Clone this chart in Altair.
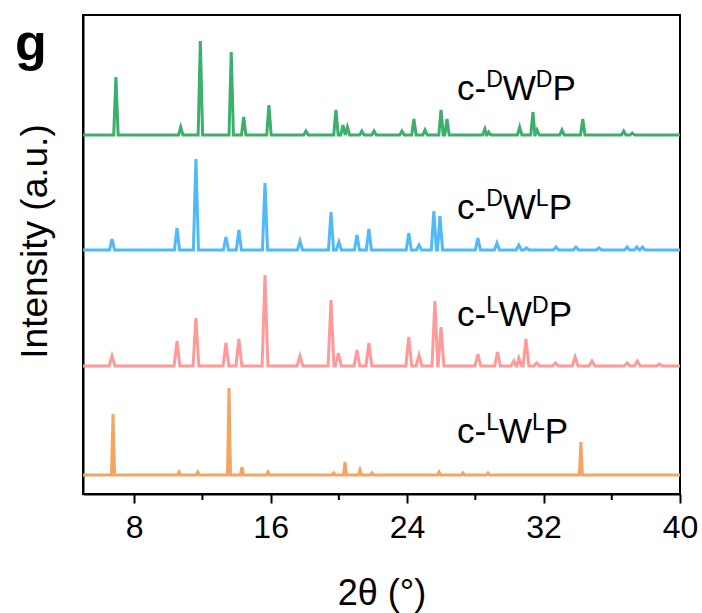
import altair as alt
import pandas as pd

# ---------------- data ----------------
series_names = ["c-DWDP", "c-DWLP", "c-LWDP", "c-LWLP"]
series_colors = ["#3BAF6B", "#4FB9FB", "#FF9A9A", "#F4A564"]
series_offsets = [359, 244, 128, 19]          # vertical stacking offsets (a.u.)
peak_halfwidth = [0.13, 0.15, 0.17, 0.09]     # half base width of peaks (deg)

dwdp_pos = [6.93, 10.73, 11.88, 13.69, 14.42, 15.90, 18.07, 19.83, 20.24, 20.50,
            21.35, 22.06, 23.70, 24.40, 25.05, 25.99, 26.34, 28.56, 28.78, 30.60,
            31.38, 31.62, 33.08, 34.30, 36.70, 37.20]
dwdp_int = [58, 8, 94, 83, 18, 30, 4, 25, 10, 8,
            4, 4, 4, 16, 5, 25, 16, 6, 3, 8,
            23, 5, 5, 16, 4, 2]

dwlp_pos = [6.70, 10.51, 11.62, 13.38, 14.14, 15.67, 17.72, 19.54, 20.00, 21.06,
            21.76, 24.10, 24.70, 25.57, 25.93, 28.15, 29.27, 30.55, 31.00, 32.73,
            33.90, 35.25, 36.90, 37.47, 37.80]
dwlp_int = [11, 22, 91, 13, 20, 67, 9, 38, 8, 15,
            21, 17, 5, 39, 34, 12, 7, 5, 2, 3,
            3, 2, 3, 3, 3]

lwdp_pos = [6.70, 10.51, 11.62, 13.38, 14.14, 15.67, 17.72, 19.54, 19.97, 21.06,
            21.76, 24.10, 24.70, 25.63, 25.99, 28.15, 29.30, 30.26, 30.55, 30.97,
            31.60, 32.70, 33.85, 34.84, 36.90, 37.50, 38.80]
lwdp_int = [10, 25, 48, 23, 27, 91, 10, 66, 13, 16,
            23, 29, 11, 65, 39, 12, 14, 5, 8, 27,
            3, 3, 9, 5, 3, 5, 2]

lwlp_pos = [6.76, 10.63, 11.73, 13.56, 14.32, 15.84, 19.70, 20.36, 21.24, 21.94,
            25.87, 27.27, 28.74, 34.19]
lwlp_int = [61, 3, 3, 87, 8, 3, 2, 13, 5, 2,
            3, 2, 2, 33]

x_ticks = [8, 16, 24, 32, 40]
x_minor_ticks = [12, 20, 28, 36]

# label positions (data coords): start x and baseline y
label_x = 26.93
label_y = [394, 275, 168, 51]
label_sups = [("D", "D"), ("D", "L"), ("L", "D"), ("L", "L")]

# ---------------- build the table ----------------
peaks = [(dwdp_pos, dwdp_int), (dwlp_pos, dwlp_int), (lwdp_pos, lwdp_int), (lwlp_pos, lwlp_int)]
rows = []
for name, (pos, inten), off, hw in zip(series_names, peaks, series_offsets, peak_halfwidth):
    pts = [(5.0, 0.0), (40.0, 0.0)]
    for p, h in zip(pos, inten):
        pts += [(p - hw, 0.0), (p, float(h)), (p + hw, 0.0)]
    pts.sort(key=lambda t: t[0])
    for x, y in pts:
        rows.append({"series": name, "angle": x, "intensity": y + off})
df = pd.DataFrame(rows)

FONT = "Liberation Sans"
X_SCALE = alt.Scale(domain=[5, 40], nice=False, zero=False)
Y_SCALE = alt.Scale(domain=[0, 479], nice=False, zero=False)
X_AXIS = alt.Axis(values=x_ticks, tickSize=9, tickWidth=2, tickColor="black",
                  labelFontSize=32, labelPadding=9, labelFont=FONT, labelColor="black",
                  labelFlush=False, labelOverlap=False, labelBound=False,
                  title="2θ (°)", titleFontSize=36, titleFont=FONT,
                  titleFontWeight="normal", titleColor="black",
                  titleBaseline="alphabetic", titleY=110, grid=False,
                  domainColor="black", domainWidth=2)
Y_AXIS = alt.Axis(ticks=False, labels=False, grid=False,
                  title="Intensity (a.u.)", titleFontSize=37, titleFont=FONT,
                  titleFontWeight="normal", titleColor="black",
                  titleBaseline="bottom", titleAlign="center",
                  titleX=-29, titleY=226, domainColor="black", domainWidth=2)


def xenc():
    return alt.X("angle:Q", scale=X_SCALE, axis=X_AXIS, title="2θ (°)")


def yenc():
    return alt.Y("intensity:Q", scale=Y_SCALE, axis=Y_AXIS, title="Intensity (a.u.)")


lines = alt.Chart(df).mark_line(strokeWidth=3, clip=True).encode(
    x=xenc(), y=yenc(),
    color=alt.Color("series:N", scale=alt.Scale(domain=series_names, range=series_colors),
                    legend=None),
    order=alt.Order("angle:Q"),
)

minor = alt.Chart(pd.DataFrame({"angle": x_minor_ticks})).mark_rule(
    color="black", strokeWidth=2).encode(
    x=xenc(), y=alt.value(479), y2=alt.value(485),
)

# label text segments
MAIN, SUP, RAISE = 35, 23, -13
ADV = {"c-": 0.833, "D": 0.722, "L": 0.556, "W": 0.944, "P": 0.667}
label_layers = []
for (s1, s2), ly in zip(label_sups, label_y):
    segs = [("c-", MAIN, 0), (s1, SUP, RAISE), ("W", MAIN, 0), (s2, SUP, RAISE), ("P", MAIN, 0)]
    dx = 0.0
    for txt, fs, dy in segs:
        label_layers.append(
            alt.Chart(pd.DataFrame({"angle": [label_x], "intensity": [ly]})).mark_text(
                text=txt, fontSize=fs, font=FONT, color="black", align="left",
                baseline="alphabetic", dx=dx, dy=dy).encode(x=xenc(), y=yenc())
        )
        dx += ADV[txt] * fs

panel_letter = alt.Chart(pd.DataFrame({"t": ["g"]})).mark_text(
    text="g", fontSize=52, fontWeight="bold", font=FONT, color="black",
    align="left", baseline="alphabetic").encode(
    x=alt.value(-68), y=alt.value(45))

chart = alt.layer(lines, minor, *label_layers, panel_letter).properties(
    width=597, height=479,
    padding={"left": 83, "top": 15, "right": 22, "bottom": 119},
    autosize=alt.AutoSizeParams(type="none"),
    background="white",
).configure_view(stroke="black", strokeWidth=2)

chart.save("out.html", embed_options={"renderer": "svg", "actions": False})
